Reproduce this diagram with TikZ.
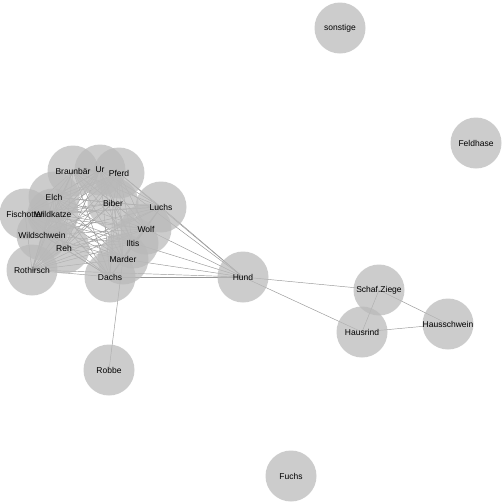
\documentclass[tikz,border=0pt]{standalone}
\usepackage{fontspec}
\setmainfont{Liberation Sans}
\usetikzlibrary{backgrounds}
\pgfdeclarelayer{labels}
\pgfsetlayers{background,main,labels}
\definecolor{nodefill}{RGB}{185,185,185}
\definecolor{edgecol}{RGB}{150,150,150}
\tikzset{
  animal/.style={circle, fill=nodefill, fill opacity=0.72, minimum size=51pt, inner sep=0pt},
  lbl/.style={inner sep=0pt, font=\fontsize{8.5}{10}\selectfont},
  link/.style={draw=edgecol, line width=0.45pt}
}
\newcommand{\animalnode}[3]{%
  \node[animal] (#1) at (#2) {};
  \begin{pgfonlayer}{labels}\node[lbl] (#1-l) at (#1.center) {#3};\end{pgfonlayer}%
}
\begin{document}
\begin{tikzpicture}[x=1pt,y=-1pt]
\useasboundingbox (0,0) rectangle (504,504);
\animalnode{sonstige}{340,28}{sonstige}
\animalnode{Feldhase}{476,143}{Feldhase}
\animalnode{Rothirsch}{32,270}{Rothirsch}
\animalnode{Fischotter}{25,214}{Fischotter}
\animalnode{Wildschwein}{42,235}{Wildschwein}
\animalnode{Elch}{54,197}{Elch}
\animalnode{Braunbaer}{73,171}{Braunbär}
\animalnode{Wildkatze}{53,214}{Wildkatze}
\animalnode{Reh}{64,248}{Reh}
\animalnode{Ur}{100,170}{Ur}
\animalnode{Pferd}{119,173}{Pferd}
\animalnode{Biber}{113,203}{Biber}
\animalnode{Luchs}{161,207}{Luchs}
\animalnode{Wolf}{146,229}{Wolf}
\animalnode{Iltis}{133,243}{Iltis}
\animalnode{Marder}{123,259}{Marder}
\animalnode{Dachs}{110,277}{Dachs}
\animalnode{Hund}{243,277}{Hund}
\animalnode{SchafZiege}{379,290}{Schaf.Ziege}
\animalnode{Hausrind}{362,332}{Hausrind}
\animalnode{Hausschwein}{448,324}{Hausschwein}
\animalnode{Robbe}{109,370}{Robbe}
\animalnode{Fuchs}{291,476}{Fuchs}
\begin{pgfonlayer}{background}
\fill[white] (0,0) rectangle (504,504);
\foreach \a [count=\i] in {Rothirsch,Fischotter,Wildschwein,Elch,Braunbaer,Wildkatze,Reh,Ur,Pferd,Biber,Luchs,Wolf,Iltis,Marder,Dachs}{
  \foreach \b [count=\j] in {Rothirsch,Fischotter,Wildschwein,Elch,Braunbaer,Wildkatze,Reh,Ur,Pferd,Biber,Luchs,Wolf,Iltis,Marder,Dachs}{
    \ifnum\i<\j \draw[link] (\a.center) -- (\b.center); \fi
  }
}
\foreach \a in {Ur,Pferd,Luchs,Wolf,Iltis,Marder,Dachs,Rothirsch}{
  \draw[link] (\a.center) -- (Hund.center);
}
\draw[link] (Robbe.center) -- (Marder.center);
\draw[link] (Hund.center) -- (SchafZiege.center);
\draw[link] (Hund.center) -- (Hausrind.center);
\draw[link] (SchafZiege.center) -- (Hausrind.center);
\draw[link] (SchafZiege.center) -- (Hausschwein.center);
\draw[link] (Hausrind.center) -- (Hausschwein.center);
\end{pgfonlayer}
\end{tikzpicture}
\end{document}
